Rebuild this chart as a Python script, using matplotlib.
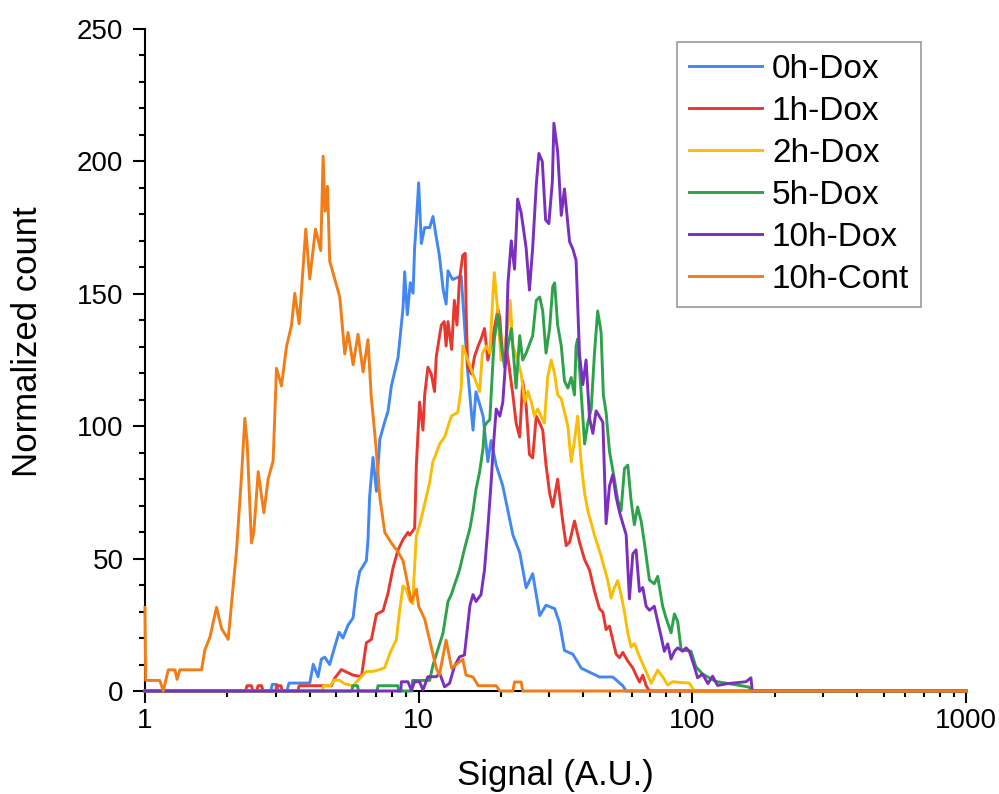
import matplotlib.pyplot as plt
from matplotlib.ticker import LogLocator, MultipleLocator, NullFormatter

plt.rcParams['font.family'] = ['Liberation Sans', 'DejaVu Sans']

labels = ['0h-Dox', '1h-Dox', '2h-Dox', '5h-Dox', '10h-Dox', '10h-Cont']
colors = ['#4287F2', '#E8372E', '#FBBC05', '#2EA24A', '#7B2FBE', '#F27D16']

# 0h-Dox
dox0_x = [1, 2.88, 2.92, 3.03, 3.07, 3.3, 3.36, 4.0, 4.12, 4.29, 4.41, 4.54, 4.73, 4.94, 5.12, 5.29,
          5.52, 5.76, 5.92, 6.09, 6.44, 6.53, 6.62, 6.81, 7.01, 7.21, 7.52, 7.73, 7.95, 8.41, 8.77,
          8.89, 9.09, 9.32, 9.54, 9.67, 9.81, 10.0, 10.23, 10.52, 10.97, 11.28, 11.6, 11.9, 12.3,
          12.6, 12.8, 13.3, 14.3, 15.1, 15.8, 16.2, 17.2, 17.9, 18.4, 19.2, 20.3, 22.1, 23.4, 24.7,
          26.1, 27.7, 29.2, 31.4, 32.7, 34.1, 36.6, 39.3, 45.8, 51.2, 55.7, 57.3, 1000]
dox0_y = [0, 0, 2.5, 2.5, 0, 0, 3, 3, 10.1, 5.4, 12, 12.8, 10, 16.8, 22.2, 20, 24.9, 27.6, 38.4,
          45.1, 49.2, 57, 73.4, 88.2, 75.4, 95, 101.7, 105.7, 115.2, 126, 144.8, 158.3, 142.1,
          154.2, 150.2, 167.7, 177.1, 191.9, 169, 175, 175, 179.2, 171.3, 164.6, 151.4, 146.1,
          158.7, 155.4, 156.7, 121, 98.5, 113, 103.8, 86.6, 94.6, 85.3, 77.4, 58.9, 52.3, 39, 44.3,
          28.5, 32.4, 31.1, 25.8, 15.3, 13.9, 8.6, 5.3, 5.3, 2, 0, 0]

# 1h-Dox
dox1_x = [1, 2.33, 2.36, 2.45, 2.48, 2.56, 2.59, 2.67, 2.70, 3.0, 3.03, 3.14, 3.17, 3.62, 3.66,
          4.80, 4.93, 5.22, 5.76, 6.18, 6.44, 6.72, 7.01, 7.41, 7.73, 8.06, 8.40, 8.77, 9.14, 9.27,
          9.67, 9.81, 10.08, 10.37, 10.52, 10.81, 11.12, 11.43, 11.6, 12.1, 12.4, 12.6, 12.8, 13.2,
          13.5, 13.8, 14.1, 14.5, 14.8, 14.9, 15.1, 15.6, 16.0, 16.5, 16.9, 17.4, 17.9, 18.4, 18.9,
          19.5, 19.8, 20.3, 20.9, 22.1, 22.7, 23.4, 24.0, 24.7, 25.4, 26.1, 26.9, 27.7, 28.4, 29.2,
          30.1, 30.9, 32.2, 33.6, 34.6, 35.6, 37.1, 38.7, 40.4, 42.1, 43.9, 45.8, 47.1, 48.4, 49.8,
          51.2, 52.7, 54.2, 55.7, 58.1, 60.6, 62.3, 64.1, 65.9, 67.8, 69.7, 1000]
dox1_y = [0, 0, 2, 2, 0, 0, 2, 2, 0, 0, 2, 2, 0, 0, 2, 2, 4.8, 8.1, 6, 5.4, 18.2, 19.5, 29, 30.3,
          37, 46.5, 53.2, 57.2, 59.9, 58.9, 61.5, 85.3, 109.1, 98.5, 111.8, 122.3, 119.7, 113.1,
          126.3, 138.2, 139.5, 130.3, 139.5, 129, 147.5, 138.2, 155.4, 164.6, 165.3, 144.8, 122.3,
          119.7, 126.3, 130.3, 132.9, 136.9, 125, 130.3, 136.9, 144.2, 140.8, 125, 130.3, 111.8,
          101.2, 95.9, 117, 107.8, 89.3, 88, 103.8, 101.2, 98.5, 85.3, 74.7, 69.5, 80.0, 64.2, 54.9,
          56.2, 64.2, 56.2, 49.6, 45.7, 37.7, 31.1, 29.8, 23.2, 24.5, 19.2, 13.9, 12.6, 14.6, 11.3,
          8.7, 6, 3.4, 6, 2, 0, 0]

# 2h-Dox
dox2_x = [1, 4.45, 4.5, 4.7, 4.75, 4.93, 5.15, 5.37, 5.76, 6.09, 6.44, 6.81, 7.21, 7.52, 7.84,
          8.29, 8.52, 8.77, 9.02, 9.27, 9.53, 9.61, 9.81, 10.08, 10.67, 10.97, 11.28, 11.43, 11.93,
          12.44, 12.8, 13.16, 13.9, 14.3, 14.5, 15.1, 16.7, 17.1, 17.7, 18.2, 18.6, 18.9, 19.5,
          20.0, 20.6, 21.2, 21.6, 22.1, 23.0, 23.7, 24.4, 25.1, 25.8, 26.5, 27.2, 28.8, 29.6, 30.5,
          31.4, 32.2, 33.2, 35.1, 36.1, 37.1, 38.1, 39.3, 40.4, 41.5, 43.9, 46.4, 49.1, 50.5, 51.9,
          53.4, 54.9, 56.5, 58.1, 59.7, 61.4, 64.1, 67.8, 70.7, 74.7, 77.9, 81.3, 84.7, 97.5, 101.7,
          1000]
dox2_y = [0, 0, 2, 2, 2, 4.2, 4, 2.7, 2, 4.7, 7.4, 7.4, 8.1, 8.8, 14.1, 19.5, 30.3, 39.7, 38.4,
          34.3, 33, 42.4, 58.6, 62.6, 73.4, 78.8, 86.9, 88, 93.3, 95.9, 99.9, 103.8, 105.2, 114.4,
          130.3, 125, 113.1, 127.6, 130.3, 127.6, 146.1, 158, 142.2, 125, 130.3, 138.2, 147.5,
          130.3, 125, 119.7, 109.1, 113.1, 109.1, 103.8, 106.5, 101.2, 118.4, 125, 119.7, 111.8,
          110.4, 99.9, 86.6, 94.6, 103.8, 85.3, 74.7, 68.1, 58.9, 51, 41.7, 35.1, 39, 41.7, 36.4,
          29.8, 21.9, 16.6, 17.9, 13, 7.3, 2.9, 7.9, 5.4, 2.3, 3.5, 3, 0, 0]

# 5h-Dox
dox5_x = [1, 5.7, 5.75, 5.98, 6.03, 7.05, 7.1, 8.4, 8.45, 9.45, 9.5, 10.97, 11.28, 12.27, 12.8,
          13.16, 14.1, 14.7, 15.4, 15.8, 16.2, 16.7, 17.2, 17.4, 17.7, 18.2, 18.4, 18.7, 18.9,
          19.5, 20.0, 20.6, 21.2, 21.8, 22.4, 22.7, 23.4, 24.0, 24.7, 26.1, 26.9, 27.7, 28.4, 29.2,
          30.1, 30.9, 31.4, 32.2, 33.2, 34.1, 35.1, 36.1, 37.1, 37.6, 38.1, 39.3, 40.4, 41.5, 42.7,
          43.9, 45.1, 46.4, 47.3, 48.4, 49.8, 51.9, 53.4, 54.9, 56.5, 58.1, 59.7, 61.4, 63.1, 65.0,
          66.8, 69.7, 72.6, 74.7, 77.9, 80.1, 83.6, 86.0, 88.4, 91.0, 98.9, 103, 109, 122, 149, 161,
          164, 1000]
dox5_y = [0, 0, 2, 2, 0, 0, 2, 2, 0, 0, 4, 4, 9.8, 21.8, 33.8, 36.4, 45.7, 53.6, 61.5, 68.1,
          76.1, 82.7, 91.9, 99.9, 101.2, 102.5, 111.8, 125, 132.9, 142.2, 131.6, 122.3, 130.3,
          136.9, 122.3, 114.4, 134.2, 125, 127.6, 134.2, 147.5, 148.8, 143.5, 127.6, 136.9, 152.7,
          154.1, 138.2, 130.3, 117.1, 114.4, 118.4, 111.8, 130.3, 132.9, 111.8, 93.3, 101.2, 106.5,
          127.6, 143.5, 135.6, 111.8, 105.2, 90.6, 80.0, 72.1, 68.1, 84.0, 85.3, 72.1, 62.8, 69.5,
          64.2, 56, 41.9, 40.5, 43.3, 32, 27.7, 22, 29.1, 26.3, 15.6, 15, 9.2, 6.4, 3.6, 2.1, 1.5,
          0, 0]

# 10h-Dox
dox10_x = [1, 8.6, 8.65, 9.14, 9.4, 9.67, 10.08, 10.37, 10.81, 11.6, 11.93, 12.44, 12.97, 13.5,
           14.1, 14.7, 15.1, 15.4, 15.8, 16.2, 16.9, 17.4, 17.9, 18.4, 18.7, 19.2, 19.8, 20.3,
           20.8, 21.2, 21.8, 22.4, 23.0, 23.7, 24.7, 25.4, 26.1, 26.9, 27.5, 28.3, 29.1, 29.9,
           30.8, 31.2, 32.2, 33.2, 34.1, 35.6, 36.6, 37.6, 38.7, 39.8, 40.9, 42.1, 43.3, 44.5,
           47.1, 48.4, 49.8, 51.2, 52.7, 54.2, 57.3, 58.9, 60.6, 62.3, 64.1, 65.9, 67.8, 69.7,
           72.6, 74.7, 76.9, 79.0, 81.3, 83.6, 86.0, 88.4, 92.2, 94.8, 97.5, 101.7, 104.5, 109,
           114, 118.6, 123.7, 134.6, 157, 163.7, 165.6, 1000]
dox10_y = [0, 0, 3.5, 3.5, 0.4, 3.5, 3.5, 0.4, 5.4, 5.4, 6.7, 1.6, 2.9, 9.2, 12.9, 13.6, 24.5,
           32.4, 36.4, 33.8, 36.4, 45.7, 61.5, 78.7, 90.6, 106.5, 103.8, 109.1, 125, 154.1, 170,
           159.3, 185.8, 180.5, 167.3, 151.4, 167.3, 191.1, 203, 200, 177.9, 176.5, 192.4, 214.4,
           203.8, 179.6, 189.6, 169.7, 166.9, 162.6, 127.1, 115.7, 125, 103, 97.3, 105.8, 101.5,
           63.2, 77.4, 81.7, 73.1, 67.5, 59, 34.8, 51.8, 53.3, 37.6, 39.1, 32, 30.5, 32, 26.3,
           20.6, 15, 17.8, 12.1, 15, 16.3, 15, 16.3, 15, 9.2, 5, 6.4, 2.8, 5.6, 2.1, 2.8, 3.5, 5,
           0, 0]

# 10h-Cont
cont_x = [1.0, 1.006, 1.134, 1.166, 1.217, 1.287, 1.31, 1.342, 1.61, 1.655, 1.726, 1.826, 1.905,
          2.014, 2.101, 2.161, 2.254, 2.317, 2.363, 2.45, 2.499, 2.593, 2.719, 2.819, 2.94, 3.024,
          3.154, 3.289, 3.43, 3.527, 3.659, 3.869, 4.0, 4.198, 4.389, 4.477, 4.55, 4.645, 4.733,
          5.15, 5.37, 5.523, 5.76, 6.005, 6.266, 6.53, 6.71, 6.91, 7.05, 7.21, 7.52, 7.95, 8.41,
          8.77, 9.15, 9.40, 9.81, 10.0, 10.52, 11.12, 11.6, 11.9, 12.6, 13.2, 13.7, 14.5, 14.9,
          15.8, 16.5, 19.2, 19.8, 22.1, 22.4, 23.7, 24.0, 1000]
cont_y = [31.6, 4, 4, 0, 8, 8, 4.4, 8, 8, 15.5, 20.2, 31.6, 23.6, 19.5, 39.7, 53.2, 81.5, 103,
          93.6, 55.9, 60, 82.8, 67.3, 80.1, 86.9, 121.9, 115.2, 130, 138, 150.2, 138.7, 174.4,
          155.6, 174.4, 166.3, 202, 181.2, 190.6, 162.3, 148.8, 127.3, 135.4, 123.2, 134.7, 120.5,
          132.7, 111.1, 97.6, 86.9, 73.4, 59.9, 55.9, 52.5, 49.2, 39.7, 33.7, 38.4, 32, 27.2, 16.6,
          8.6, 6, 19.2, 8.6, 10, 12, 6, 5.3, 2, 2, 0, 0, 3.4, 3.4, 0, 0]

series_x = [dox0_x, dox1_x, dox2_x, dox5_x, dox10_x, cont_x]
series_y = [dox0_y, dox1_y, dox2_y, dox5_y, dox10_y, cont_y]

fig = plt.figure(figsize=(9.99, 7.94), dpi=100)
ax = fig.add_axes([0.1451, 0.1297, 0.8219, 0.8338])

for xs, ys, c, lab in zip(series_x, series_y, colors, labels):
    ax.plot(xs, ys, color=c, lw=2.1, label=lab, zorder=3, clip_on=False)

ax.set_xscale('log')
ax.set_xlim(1, 1000)
ax.set_ylim(0, 250)
ax.set_xticks([1, 10, 100, 1000])
ax.set_xticklabels(['1', '10', '100', '1000'])
ax.xaxis.set_minor_locator(LogLocator(base=10, subs=range(2, 10)))
ax.xaxis.set_minor_formatter(NullFormatter())
ax.yaxis.set_major_locator(MultipleLocator(50))
ax.yaxis.set_minor_locator(MultipleLocator(10))

for s in ['top', 'right']:
    ax.spines[s].set_visible(False)
for s in ['left', 'bottom']:
    ax.spines[s].set_linewidth(1.5)

ax.tick_params(which='major', direction='out', length=8.5, width=1.5, labelsize=20)
ax.tick_params(which='minor', direction='out', length=4.5, width=1.5)
ax.tick_params(axis='x', which='major', pad=4)
ax.tick_params(axis='y', which='major', pad=7)

fig.text(555 / 999, 1 - 775 / 794, 'Signal (A.U.)', ha='center', va='center', fontsize=25)
fig.text(28 / 999, 1 - 341.5 / 794, 'Normalized count', ha='center', va='center',
         rotation=90, fontsize=25)

leg = ax.legend(loc='upper right', bbox_to_anchor=(0.945, 0.980), fontsize=24, frameon=True,
                fancybox=False, edgecolor='#808080', borderpad=0.35, labelspacing=0.33,
                handlelength=2.2, handletextpad=0.3, borderaxespad=0)
leg.get_frame().set_linewidth(1.2)

fig.savefig('out.png', dpi=100)
